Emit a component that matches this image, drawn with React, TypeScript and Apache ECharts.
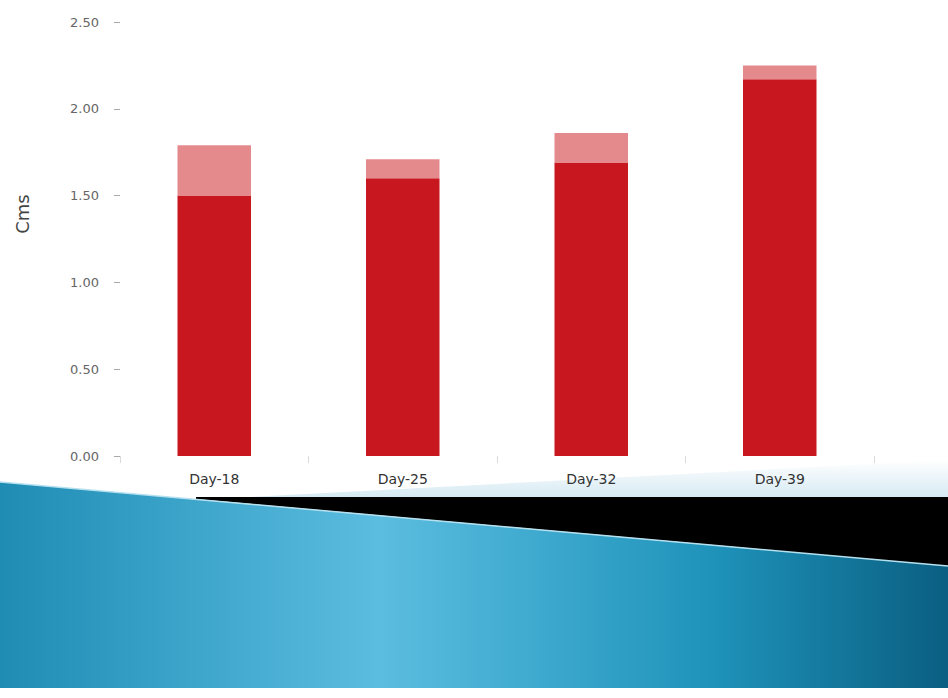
import React, { useEffect, useRef } from "react";
import * as echarts from "echarts";

const categories = ["Day-18", "Day-25", "Day-32", "Day-39"];
const baseValues = [1.5, 1.6, 1.69, 2.17];
const topValues = [0.29, 0.11, 0.17, 0.08];
const yAxisTitle = "Cms";

export default function App() {
  const ref = useRef<HTMLDivElement>(null);
  useEffect(() => {
    if (!ref.current) return;
    const chart = echarts.init(ref.current, undefined, { renderer: "svg" });
    chart.setOption({
      animation: false,
      backgroundColor: "#ffffff",
      grid: { left: 120, right: 74, top: 22, bottom: 242, containLabel: false },
      xAxis: {
        type: "category",
        data: categories,
        axisLine: { show: false },
        axisTick: {
          show: true,
          length: 7,
          lineStyle: { color: "#dadada" },
        },
        axisLabel: { color: "#333", fontSize: 14, margin: 16, fontFamily: "DejaVu Sans" },
      },
      yAxis: {
        type: "value",
        min: 0,
        max: 2.5,
        interval: 0.5,
        splitLine: { show: false },
        axisLine: { show: false },
        axisTick: { show: true, length: 6, lineStyle: { color: "#aaa" } },
        axisLabel: {
          color: "#666",
          fontSize: 13,
          margin: 21,
          fontFamily: "DejaVu Sans",
          formatter: (v: number) => v.toFixed(2),
        },
      },
      series: [
        {
          type: "bar",
          stack: "s",
          data: baseValues,
          barWidth: "39%",
          itemStyle: { color: "#c8171f" },
        },
        {
          type: "bar",
          stack: "s",
          data: topValues,
          barWidth: "39%",
          itemStyle: { color: "#e48a8c" },
        },
      ],
      graphic: [
        {
          type: "text",
          x: 22,
          y: 214,
          rotation: Math.PI / 2,
          style: {
            text: yAxisTitle,
            fill: "#444",
            fontSize: 18,
            fontFamily: "DejaVu Sans",
            textAlign: "center",
            textVerticalAlign: "middle",
          },
        },
        {
          type: "polygon",
          z: -1,
          shape: { points: [[250, 497], [948, 460], [948, 497]] },
          style: {
            fill: new echarts.graphic.LinearGradient(0, 0, 0, 1, [
              { offset: 0, color: "#ffffff" },
              { offset: 1, color: "#d6eaf3" },
            ]),
          },
        },
        {
          type: "polygon",
          z: 1,
          shape: { points: [[196, 497], [948, 497], [948, 566], [196, 499]] },
          style: { fill: "#000000" },
        },
        {
          type: "polygon",
          z: 2,
          shape: { points: [[0, 482], [948, 566], [948, 688], [0, 688]] },
          style: {
            fill: new echarts.graphic.LinearGradient(0, 0, 1, 0, [
              { offset: 0, color: "#1f8cb4" },
              { offset: 0.4, color: "#5bbde0" },
              { offset: 0.75, color: "#1f93ba" },
              { offset: 1, color: "#0a5f82" },
            ]),
          },
        },
        {
          type: "polyline",
          z: 3,
          shape: { points: [[0, 482], [948, 566]] },
          style: { stroke: "#b5e0ef", lineWidth: 1.5, fill: null },
        },
      ],
    });
    return () => chart.dispose();
  }, []);
  return (
    <div
      ref={ref}
      style={{ position: "fixed", left: 0, top: 0, width: 948, height: 698 }}
    />
  );
}
